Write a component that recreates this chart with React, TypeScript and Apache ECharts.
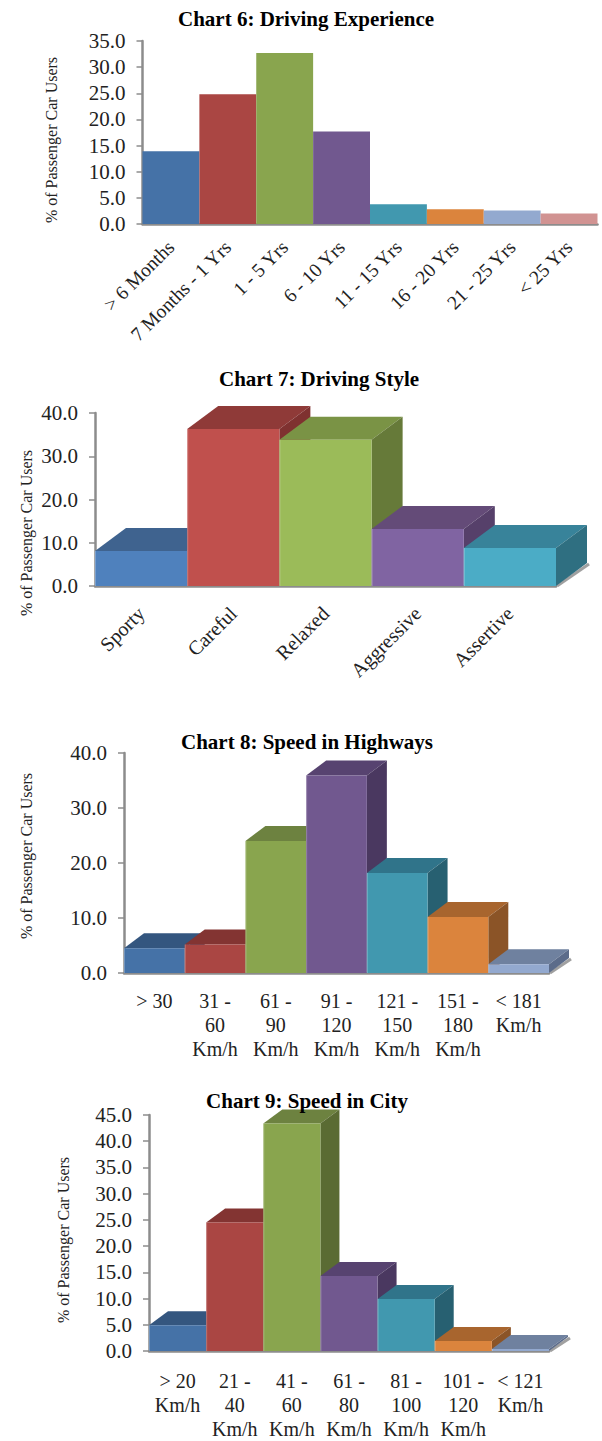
import React, { useEffect, useRef } from "react";
import * as echarts from "echarts";

const experienceLabels = ["> 6 Months", "7 Months - 1 Yrs", "1 - 5 Yrs", "6 - 10 Yrs", "11 - 15 Yrs", "16 - 20 Yrs", "21 - 25 Yrs", "< 25 Yrs"];
const experienceValues = [13.9, 24.8, 32.7, 17.7, 3.8, 2.8, 2.6, 2.0];

const styleLabels = ["Sporty", "Careful", "Relaxed", "Aggressive", "Assertive"];
const styleValues = [8.1, 36.3, 33.8, 13.2, 8.8];

const highwayLabels = ["> 30", "31 -\n60\nKm/h", "61 -\n90\nKm/h", "91 -\n120\nKm/h", "121 -\n150\nKm/h", "151 -\n180\nKm/h", "< 181\nKm/h"];
const highwayValues = [4.5, 5.2, 24.0, 35.9, 18.2, 10.2, 1.6];

const cityLabels = ["> 20\nKm/h", "21 -\n40\nKm/h", "41 -\n60\nKm/h", "61 -\n80\nKm/h", "81 -\n100\nKm/h", "101 -\n120\nKm/h", "< 121\nKm/h"];
const cityValues = [4.9, 24.5, 43.4, 14.3, 9.9, 1.9, 0.4];

const SERIF = "'Liberation Serif', serif";
const AXIS_GREY = "#8c8c8c";
const Y_NAME = "% of Passenger Car Users";

// front, top and side shades of each cube
const softPalette = [
  ["#4F81BD", "#3F638F", "#375780"],
  ["#C0504D", "#8F3A38", "#7F3130"],
  ["#9BBB59", "#7A9345", "#667A39"],
  ["#8064A2", "#644B78", "#56406A"],
  ["#4BACC6", "#38839A", "#2F6F81"],
];
const deepPalette = [
  ["#4572A7", "#34567F", "#2C4A6E"],
  ["#AA4643", "#833432", "#702C2A"],
  ["#89A54E", "#6D8240", "#5A6B33"],
  ["#71588F", "#574370", "#4A3860"],
  ["#4198AF", "#30748A", "#276071"],
  ["#DB843D", "#A8652E", "#8B5427"],
  ["#93A9CF", "#6F819F", "#5C6C8A"],
];
const flatColors = ["#4572A7", "#AA4643", "#89A54E", "#71588F", "#4198AF", "#DB843D", "#93A9CF", "#D19392"];

function cubeRenderer(dx: number, dy: number, palette: string[][], lastIndex: number) {
  return (_params: any, api: any) => {
    const i = api.value(0);
    const [cx, top] = api.coord([i, api.value(1)]);
    const [, base] = api.coord([i, 0]);
    const w = api.size([1, 0])[0];
    const l = cx - w / 2;
    const r = cx + w / 2;
    const [front, lid, side] = palette[i];
    const children: any[] = [];
    // the floor edge sits under the last cube's side face
    if (i === lastIndex) {
      children.push({
        type: "line",
        shape: { x1: r + 1, y1: base, x2: r + dx + 2, y2: base - dy + 1 },
        style: { stroke: "#a0a0a0", lineWidth: 3 },
      });
    }
    children.push(
      { type: "polygon", shape: { points: [[l, top], [l + dx, top - dy], [r + dx, top - dy], [r, top]] }, style: { fill: lid } },
      { type: "polygon", shape: { points: [[r, base], [r + dx, base - dy], [r + dx, top - dy], [r, top]] }, style: { fill: side } },
      { type: "rect", shape: { x: l, y: top, width: w, height: base - top }, style: { fill: front } },
      { type: "rect", shape: { x: l, y: top, width: 1, height: base - top }, style: { fill: "rgba(255,255,255,0.25)" } },
    );
    return { type: "group", children };
  };
}

function valueAxis(gridIndex: number, max: number, interval: number, fontSize: number) {
  return {
    type: "value",
    gridIndex,
    min: 0,
    max,
    interval,
    splitLine: { show: false },
    axisLine: { show: true, lineStyle: { color: AXIS_GREY, width: 2.5 } },
    axisTick: { show: true, length: 6, lineStyle: { color: AXIS_GREY, width: 1.5 } },
    axisLabel: {
      fontFamily: SERIF,
      fontSize,
      color: "#222",
      margin: 17,
      formatter: (v: number) => v.toFixed(1),
    },
  };
}

function categoryAxis(gridIndex: number, data: string[], fontSize: number, margin: number, rotate = 0) {
  return {
    type: "category",
    gridIndex,
    data,
    axisLine: { show: true, lineStyle: { color: AXIS_GREY, width: 2.5 } },
    axisTick: { show: false },
    axisLabel: {
      interval: 0,
      rotate,
      margin,
      fontFamily: SERIF,
      fontSize,
      lineHeight: 24,
      color: "#222",
    },
  };
}

function cubeSeries(axisIndex: number, values: number[], dx: number, dy: number, palette: string[][]) {
  return {
    type: "custom",
    xAxisIndex: axisIndex,
    yAxisIndex: axisIndex,
    silent: true,
    clip: false,
    z: 3,
    data: values.map((v, i) => [i, v]),
    encode: { x: 0, y: 1 },
    renderItem: cubeRenderer(dx, dy, palette, values.length - 1),
  };
}

function yName(x: number, y: number) {
  return {
    type: "text",
    x,
    y,
    rotation: Math.PI / 2,
    silent: true,
    style: {
      text: Y_NAME,
      fontFamily: SERIF,
      fontSize: 16,
      fill: "#222",
      textAlign: "center",
      textVerticalAlign: "middle",
    },
  };
}

function heading(text: string, left: number, top: number) {
  return {
    text,
    left,
    top,
    textAlign: "center",
    padding: 0,
    textStyle: { fontFamily: SERIF, fontSize: 21, fontWeight: "bold", color: "#000" },
  };
}

export default function App() {
  const ref = useRef<HTMLDivElement>(null);

  useEffect(() => {
    const chart = echarts.init(ref.current!, undefined, { renderer: "svg" });
    chart.setOption({
      animation: false,
      backgroundColor: "#fff",
      title: [
        heading("Chart 6: Driving Experience", 306, 8),
        heading("Chart 7: Driving Style", 319, 368),
        heading("Chart 8: Speed in Highways", 307, 731),
        heading("Chart 9: Speed in City", 307, 1090),
      ],
      grid: [
        { left: 142.5, top: 41, width: 455, height: 183 },
        { left: 95, top: 413, width: 461, height: 173 },
        { left: 124, top: 753, width: 425, height: 220 },
        { left: 149, top: 1115, width: 400, height: 239 },
      ],
      xAxis: [
        categoryAxis(0, experienceLabels, 19.5, 20, 45),
        categoryAxis(1, styleLabels, 20, 24, 45),
        categoryAxis(2, highwayLabels, 20, 16),
        categoryAxis(3, cityLabels, 20, 18),
      ],
      yAxis: [
        valueAxis(0, 35, 5, 21),
        valueAxis(1, 40, 10, 21),
        valueAxis(2, 40, 10, 21),
        valueAxis(3, 45, 5, 21),
      ],
      series: [
        {
          type: "bar",
          xAxisIndex: 0,
          yAxisIndex: 0,
          barCategoryGap: 0,
          silent: true,
          data: experienceValues.map((value, i) => ({ value, itemStyle: { color: flatColors[i] } })),
        },
        cubeSeries(1, styleValues, 31, 23, softPalette),
        cubeSeries(2, highwayValues, 20, 15, deepPalette),
        cubeSeries(3, cityValues, 19, 14, deepPalette),
      ],
      graphic: [yName(51, 140), yName(26, 533), yName(26, 856), yName(63, 1240)],
    });
    return () => chart.dispose();
  }, []);

  return <div ref={ref} style={{ position: "absolute", left: 0, top: 0, width: 602, height: 1441 }} />;
}
